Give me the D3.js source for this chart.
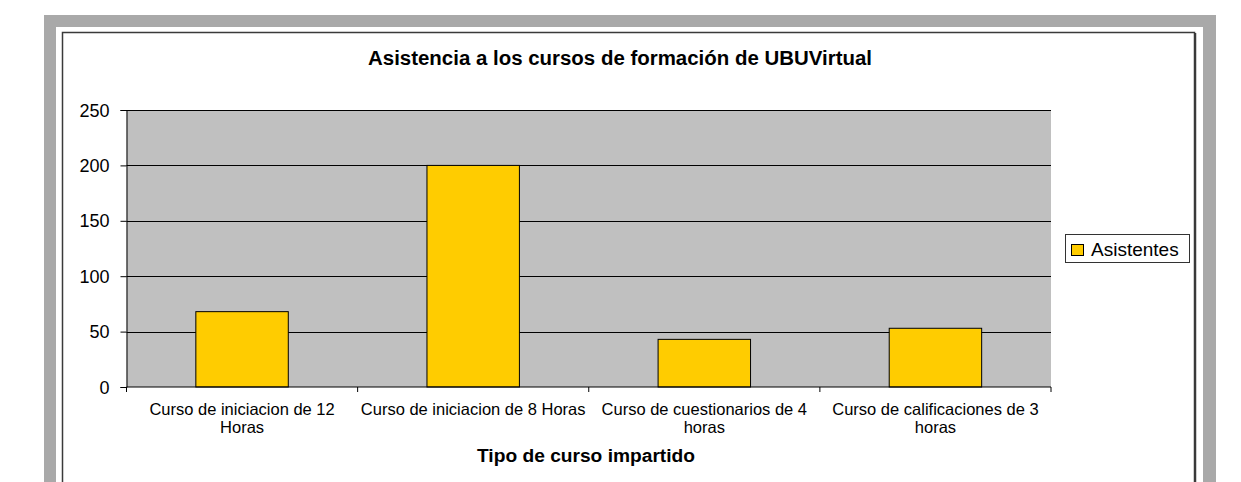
<!DOCTYPE html>
<html>
<head>
<meta charset="utf-8">
<script src="https://cdn.jsdelivr.net/npm/d3@7"></script>
<style>
  html, body { margin: 0; padding: 0; background: #fff; }
  svg { display: block; font-family: "Liberation Sans", Arial, sans-serif; }
</style>
</head>
<body>
<svg id="chart" width="1241" height="482"></svg>
<script>
const categories = [
  ["Curso de iniciacion de 12", "Horas"],
  ["Curso de iniciacion de 8 Horas"],
  ["Curso de cuestionarios de 4", "horas"],
  ["Curso de calificaciones de 3", "horas"]
];
const asistentes = [68, 200, 43, 53];
const yTicks = [0, 50, 100, 150, 200, 250];
const title = "Asistencia a los cursos de formación de UBUVirtual";
const xTitle = "Tipo de curso impartido";
const seriesName = "Asistentes";

const svg = d3.select("#chart");

// outer frame
svg.append("rect").attr("x", 44).attr("y", 15).attr("width", 1172).attr("height", 480).attr("fill", "#a9a9a9");
svg.append("rect").attr("x", 56).attr("y", 27).attr("width", 1147).attr("height", 470).attr("fill", "#ffffff");
svg.append("rect").attr("x", 62.5).attr("y", 32.5).attr("width", 1132).attr("height", 470)
  .attr("fill", "#ffffff").attr("stroke", "#3a3a3a").attr("stroke-width", 1.5);
svg.append("line").attr("x1", 1195.5).attr("x2", 1195.5).attr("y1", 33).attr("y2", 482)
  .attr("stroke", "#3a3a3a").attr("stroke-width", 1.5);

const plot = { left: 126.5, right: 1051, top: 110, bottom: 387 };

const x = d3.scaleBand().domain(d3.range(categories.length))
  .range([plot.left, plot.right]).paddingInner(0.6).paddingOuter(0.3);
const xb = d3.scaleBand().domain(d3.range(categories.length)).range([plot.left, plot.right]);
const y = d3.scaleLinear().domain([0, 250]).range([plot.bottom, plot.top]);

// plot background
svg.append("rect").attr("x", plot.left).attr("y", plot.top)
  .attr("width", plot.right - plot.left).attr("height", plot.bottom - plot.top).attr("fill", "#c0c0c0");

// gridlines
svg.append("g").selectAll("line").data(yTicks.filter(d => d > 0)).join("line")
  .attr("x1", plot.left).attr("x2", plot.right)
  .attr("y1", d => Math.round(y(d)) + 0.5).attr("y2", d => Math.round(y(d)) + 0.5)
  .attr("stroke", "#000").attr("stroke-width", 1);

// y axis
const yAxis = svg.append("g").attr("transform", `translate(${plot.left},0)`)
  .call(d3.axisLeft(y).tickValues(yTicks).tickSize(6).tickPadding(11));
yAxis.select(".domain").attr("stroke", "#000");
yAxis.selectAll("text").attr("font-size", 18).attr("fill", "#000")
  .attr("font-family", "Liberation Sans, Arial, sans-serif").attr("dy", "0.34em");

// bars
svg.append("g").selectAll("rect").data(asistentes).join("rect")
  .attr("x", (d, i) => x(i)).attr("width", x.bandwidth())
  .attr("y", d => y(d)).attr("height", d => y(0) - y(d))
  .attr("fill", "#ffcc00").attr("stroke", "#000").attr("stroke-width", 1);

// x axis
const xAxisG = svg.append("g").attr("transform", `translate(0,${plot.bottom})`);
xAxisG.append("line").attr("x1", plot.left).attr("x2", plot.right).attr("y1", 0).attr("y2", 0)
  .attr("stroke", "#000").attr("stroke-width", 1);
const bounds = d3.range(categories.length + 1).map(i => i < categories.length ? xb(i) : plot.right);
xAxisG.selectAll("line.tk").data(bounds).join("line").attr("class", "tk")
  .attr("x1", d => d).attr("x2", d => d).attr("y1", 0).attr("y2", 5)
  .attr("stroke", "#000");
const labels = xAxisG.selectAll("text.lbl").data(categories).join("text").attr("class", "lbl")
  .attr("x", (d, i) => xb(i) + xb.bandwidth() / 2)
  .attr("text-anchor", "middle").attr("font-size", 16.5).attr("fill", "#000");
labels.selectAll("tspan").data(d => d).join("tspan")
  .attr("x", function() { return this.parentNode.getAttribute("x"); })
  .attr("y", (d, j) => 28 + j * 18)
  .text(d => d);

// titles
svg.append("text").attr("x", 620).attr("y", 65).attr("text-anchor", "middle")
  .attr("font-size", 19.5).attr("font-weight", "bold").attr("fill", "#000")
  .attr("textLength", 504).attr("lengthAdjust", "spacingAndGlyphs").text(title);
svg.append("text").attr("x", 586).attr("y", 462).attr("text-anchor", "middle")
  .attr("font-size", 17.5).attr("font-weight", "bold").attr("fill", "#000")
  .attr("textLength", 218).attr("lengthAdjust", "spacingAndGlyphs").text(xTitle);

// legend
const lg = svg.append("g");
lg.append("rect").attr("x", 1065.5).attr("y", 234.5).attr("width", 124).attr("height", 28)
  .attr("fill", "#fff").attr("stroke", "#333").attr("stroke-width", 1);
lg.append("rect").attr("x", 1071.5).attr("y", 244.5).attr("width", 12).attr("height", 11)
  .attr("fill", "#ffcc00").attr("stroke", "#000").attr("stroke-width", 1);
lg.append("text").attr("x", 1091).attr("y", 256).attr("font-size", 19).attr("fill", "#000")
  .text(seriesName);
</script>
</body>
</html>
